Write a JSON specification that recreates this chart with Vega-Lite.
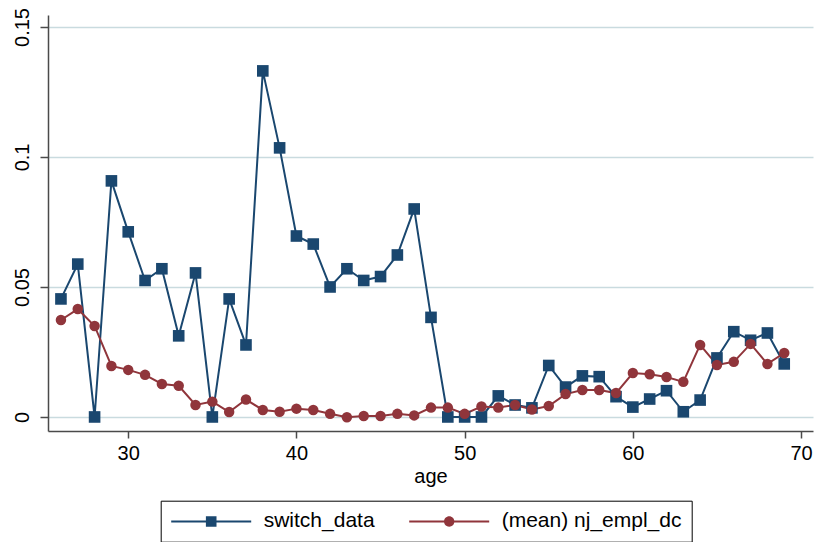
{
  "$schema": "https://vega.github.io/schema/vega-lite/v6.json",
  "width": 765,
  "height": 416,
  "autosize": {"type": "none"},
  "padding": {"left": 48, "top": 15, "right": 4, "bottom": 111},
  "background": "white",
  "config": {
    "view": {"stroke": null},
    "font": "Liberation Sans",
    "axis": {
      "domainColor": "#4a4a4a",
      "domainWidth": 1.5,
      "tickColor": "#4a4a4a",
      "tickWidth": 1.5,
      "labelFont": "Liberation Sans",
      "labelFontSize": 20,
      "labelColor": "black",
      "titleFont": "Liberation Sans",
      "titleFontSize": 20,
      "titleFontWeight": "normal",
      "titleColor": "black"
    }
  },
  "data": {
    "values": [
      {"age": 26, "series": "switch_data", "value": 0.0454},
      {"age": 27, "series": "switch_data", "value": 0.0588},
      {"age": 28, "series": "switch_data", "value": 0.0},
      {"age": 29, "series": "switch_data", "value": 0.0908},
      {"age": 30, "series": "switch_data", "value": 0.0712},
      {"age": 31, "series": "switch_data", "value": 0.0525},
      {"age": 32, "series": "switch_data", "value": 0.0570},
      {"age": 33, "series": "switch_data", "value": 0.0312},
      {"age": 34, "series": "switch_data", "value": 0.0554},
      {"age": 35, "series": "switch_data", "value": 0.0},
      {"age": 36, "series": "switch_data", "value": 0.0454},
      {"age": 37, "series": "switch_data", "value": 0.0277},
      {"age": 38, "series": "switch_data", "value": 0.1331},
      {"age": 39, "series": "switch_data", "value": 0.1035},
      {"age": 40, "series": "switch_data", "value": 0.0696},
      {"age": 41, "series": "switch_data", "value": 0.0665},
      {"age": 42, "series": "switch_data", "value": 0.0500},
      {"age": 43, "series": "switch_data", "value": 0.0570},
      {"age": 44, "series": "switch_data", "value": 0.0525},
      {"age": 45, "series": "switch_data", "value": 0.0540},
      {"age": 46, "series": "switch_data", "value": 0.0623},
      {"age": 47, "series": "switch_data", "value": 0.0800},
      {"age": 48, "series": "switch_data", "value": 0.0383},
      {"age": 49, "series": "switch_data", "value": 0.0},
      {"age": 50, "series": "switch_data", "value": 0.0},
      {"age": 51, "series": "switch_data", "value": 0.0},
      {"age": 52, "series": "switch_data", "value": 0.0081},
      {"age": 53, "series": "switch_data", "value": 0.0046},
      {"age": 54, "series": "switch_data", "value": 0.0035},
      {"age": 55, "series": "switch_data", "value": 0.0198},
      {"age": 56, "series": "switch_data", "value": 0.0115},
      {"age": 57, "series": "switch_data", "value": 0.0158},
      {"age": 58, "series": "switch_data", "value": 0.0155},
      {"age": 59, "series": "switch_data", "value": 0.0078},
      {"age": 60, "series": "switch_data", "value": 0.0038},
      {"age": 61, "series": "switch_data", "value": 0.0069},
      {"age": 62, "series": "switch_data", "value": 0.0101},
      {"age": 63, "series": "switch_data", "value": 0.0020},
      {"age": 64, "series": "switch_data", "value": 0.0065},
      {"age": 65, "series": "switch_data", "value": 0.0227},
      {"age": 66, "series": "switch_data", "value": 0.0328},
      {"age": 67, "series": "switch_data", "value": 0.0295},
      {"age": 68, "series": "switch_data", "value": 0.0323},
      {"age": 69, "series": "switch_data", "value": 0.0204},
      {"age": 26, "series": "(mean) nj_empl_dc", "value": 0.0373},
      {"age": 27, "series": "(mean) nj_empl_dc", "value": 0.0415},
      {"age": 28, "series": "(mean) nj_empl_dc", "value": 0.0350},
      {"age": 29, "series": "(mean) nj_empl_dc", "value": 0.0196},
      {"age": 30, "series": "(mean) nj_empl_dc", "value": 0.0181},
      {"age": 31, "series": "(mean) nj_empl_dc", "value": 0.0162},
      {"age": 32, "series": "(mean) nj_empl_dc", "value": 0.0127},
      {"age": 33, "series": "(mean) nj_empl_dc", "value": 0.0120},
      {"age": 34, "series": "(mean) nj_empl_dc", "value": 0.0046},
      {"age": 35, "series": "(mean) nj_empl_dc", "value": 0.0059},
      {"age": 36, "series": "(mean) nj_empl_dc", "value": 0.0019},
      {"age": 37, "series": "(mean) nj_empl_dc", "value": 0.0067},
      {"age": 38, "series": "(mean) nj_empl_dc", "value": 0.0027},
      {"age": 39, "series": "(mean) nj_empl_dc", "value": 0.0020},
      {"age": 40, "series": "(mean) nj_empl_dc", "value": 0.0032},
      {"age": 41, "series": "(mean) nj_empl_dc", "value": 0.0027},
      {"age": 42, "series": "(mean) nj_empl_dc", "value": 0.0012},
      {"age": 43, "series": "(mean) nj_empl_dc", "value": -0.0001},
      {"age": 44, "series": "(mean) nj_empl_dc", "value": 0.0004},
      {"age": 45, "series": "(mean) nj_empl_dc", "value": 0.0004},
      {"age": 46, "series": "(mean) nj_empl_dc", "value": 0.0012},
      {"age": 47, "series": "(mean) nj_empl_dc", "value": 0.0006},
      {"age": 48, "series": "(mean) nj_empl_dc", "value": 0.0036},
      {"age": 49, "series": "(mean) nj_empl_dc", "value": 0.0036},
      {"age": 50, "series": "(mean) nj_empl_dc", "value": 0.0012},
      {"age": 51, "series": "(mean) nj_empl_dc", "value": 0.0040},
      {"age": 52, "series": "(mean) nj_empl_dc", "value": 0.0036},
      {"age": 53, "series": "(mean) nj_empl_dc", "value": 0.0046},
      {"age": 54, "series": "(mean) nj_empl_dc", "value": 0.0029},
      {"age": 55, "series": "(mean) nj_empl_dc", "value": 0.0042},
      {"age": 56, "series": "(mean) nj_empl_dc", "value": 0.0088},
      {"age": 57, "series": "(mean) nj_empl_dc", "value": 0.0104},
      {"age": 58, "series": "(mean) nj_empl_dc", "value": 0.0104},
      {"age": 59, "series": "(mean) nj_empl_dc", "value": 0.0092},
      {"age": 60, "series": "(mean) nj_empl_dc", "value": 0.0169},
      {"age": 61, "series": "(mean) nj_empl_dc", "value": 0.0164},
      {"age": 62, "series": "(mean) nj_empl_dc", "value": 0.0154},
      {"age": 63, "series": "(mean) nj_empl_dc", "value": 0.0135},
      {"age": 64, "series": "(mean) nj_empl_dc", "value": 0.0277},
      {"age": 65, "series": "(mean) nj_empl_dc", "value": 0.0200},
      {"age": 66, "series": "(mean) nj_empl_dc", "value": 0.0212},
      {"age": 67, "series": "(mean) nj_empl_dc", "value": 0.0281},
      {"age": 68, "series": "(mean) nj_empl_dc", "value": 0.0204},
      {"age": 69, "series": "(mean) nj_empl_dc", "value": 0.0246}
    ]
  },
  "encoding": {
    "x": {
      "field": "age",
      "type": "quantitative",
      "scale": {"domain": [25.23, 70.71], "nice": false, "zero": false},
      "axis": {
        "title": "age",
        "values": [30, 40, 50, 60, 70],
        "grid": false,
        "tickSize": 7,
        "labelPadding": 5,
        "titlePadding": 3
      }
    },
    "y": {
      "field": "value",
      "type": "quantitative",
      "scale": {"domain": [-0.0054, 0.1546], "nice": false, "zero": false},
      "axis": {
        "title": null,
        "values": [0, 0.05, 0.1, 0.15],
        "format": "~g",
        "labelAngle": 270,
        "tickSize": 8,
        "labelPadding": 8,
        "grid": true,
        "gridColor": "#c9dbdf",
        "gridWidth": 1.5
      }
    }
  },
  "layer": [
    {
      "mark": {"type": "line", "strokeWidth": 2},
      "encoding": {
        "color": {
          "field": "series",
          "type": "nominal",
          "scale": {"domain": ["switch_data", "(mean) nj_empl_dc"], "range": ["#1a476f", "#90353b"]},
          "legend": {
            "title": null,
            "orient": "none",
            "legendX": 112.7,
            "legendY": 485.7,
            "direction": "horizontal",
            "columns": 2,
            "columnPadding": 34,
            "padding": 10,
            "strokeColor": "black",
            "fillColor": "white",
            "symbolType": "circle",
            "symbolSize": 400,
            "symbolStrokeWidth": 0,
            "labelOffset": 72,
            "labelFont": "Liberation Sans",
            "labelFontSize": 21,
            "labelColor": "black",
            "labelLimit": 400,
            "encode": {
              "symbols": {
                "update": {
                  "shape": {"signal": "datum.value === 'switch_data' ? 'M-1,-0.1H7V0.1H-1Z M2.47,-0.53H3.53V0.53H2.47Z' : 'M-1,-0.1H7V0.1H-1Z M2.48,0A0.52,0.52 0 1,1 3.52,0A0.52,0.52 0 1,1 2.48,0Z'"},
                  "fill": {"signal": "datum.value === 'switch_data' ? '#1a476f' : '#90353b'"},
                  "fillOpacity": {"value": 1},
                  "strokeWidth": {"value": 0},
                  "opacity": {"value": 1}
                }
              }
            }
          }
        }
      }
    },
    {
      "transform": [{"filter": "datum.series === 'switch_data'"}],
      "mark": {"type": "point", "shape": "square", "filled": true, "opacity": 1, "strokeWidth": 0, "size": 135, "color": "#1a476f"}
    },
    {
      "transform": [{"filter": "datum.series !== 'switch_data'"}],
      "mark": {"type": "point", "shape": "circle", "filled": true, "opacity": 1, "strokeWidth": 0, "size": 110, "color": "#90353b"}
    }
  ]
}
